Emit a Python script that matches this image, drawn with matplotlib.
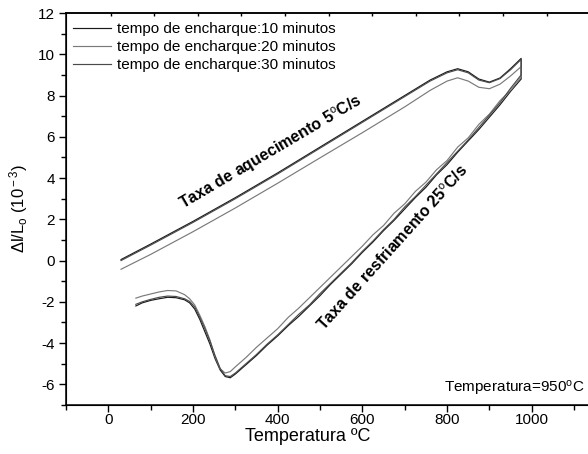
import matplotlib
matplotlib.use("Agg")
import matplotlib.pyplot as plt
from matplotlib.ticker import MultipleLocator, FixedLocator
import numpy as np

plt.rcParams['font.family'] = ['Liberation Sans', 'DejaVu Sans']
plt.rcParams['mathtext.fontset'] = 'custom'
plt.rcParams['mathtext.rm'] = 'Liberation Sans'
plt.rcParams['mathtext.it'] = 'Liberation Sans:italic'
plt.rcParams['mathtext.bf'] = 'Liberation Sans:bold'
plt.rcParams['axes.unicode_minus'] = False

# ---------------- data ----------------
labels = ['tempo de encharque:10 minutos',
          'tempo de encharque:20 minutos',
          'tempo de encharque:30 minutos']
colors = ['#1a1a1a', '#7a7a7a', '#4a4a4a']

temp_heat = [30, 100, 200, 300, 400, 500, 600, 700, 760, 800, 825, 850, 875, 900, 925, 950, 975]
heat_10 = [0.05, 0.80, 1.90, 3.05, 4.25, 5.50, 6.75, 8.00, 8.75, 9.15, 9.30, 9.15, 8.80, 8.65, 8.85, 9.30, 9.80]
heat_20 = [-0.42, 0.30, 1.40, 2.55, 3.75, 4.98, 6.20, 7.45, 8.25, 8.70, 8.86, 8.70, 8.40, 8.33, 8.55, 8.95, 9.40]
heat_30 = [0.00, 0.75, 1.85, 3.00, 4.20, 5.45, 6.70, 7.95, 8.70, 9.10, 9.25, 9.10, 8.75, 8.62, 8.82, 9.25, 9.75]

temp_cool = [975, 950, 925, 900, 875, 850, 825, 800, 775, 750, 725, 700, 675, 650, 625, 600,
             575, 550, 525, 500, 475, 450, 425, 400, 375, 350, 325, 300, 288, 276, 264, 252,
             240, 228, 216, 204, 192, 180, 160, 140, 120, 100, 80, 65]
cool_10 = [8.8, 8.2, 7.55, 6.95, 6.35, 5.8, 5.25, 4.65, 4.15, 3.55, 3.05, 2.5, 1.95, 1.45, 0.9, 0.4,
           -0.15, -0.65, -1.15, -1.7, -2.2, -2.7, -3.15, -3.65, -4.1, -4.6, -5.05, -5.5, -5.68, -5.62, -5.3, -4.75,
           -4.05, -3.45, -2.85, -2.35, -2.05, -1.9, -1.8, -1.78, -1.85, -1.93, -2.05, -2.2]
cool_20 = [8.9, 8.25, 7.75, 7.1, 6.6, 5.95, 5.5, 4.85, 4.4, 3.8, 3.35, 2.75, 2.3, 1.7, 1.25, 0.7,
           0.2, -0.3, -0.8, -1.3, -1.8, -2.3, -2.75, -3.3, -3.75, -4.2, -4.7, -5.15, -5.38, -5.45, -5.25, -4.65,
           -3.85, -3.2, -2.65, -2.15, -1.85, -1.65, -1.47, -1.45, -1.52, -1.62, -1.72, -1.82]
cool_30 = [9.0, 8.35, 7.65, 7.05, 6.45, 5.85, 5.3, 4.75, 4.2, 3.65, 3.1, 2.6, 2.0, 1.5, 0.95, 0.45,
           -0.1, -0.6, -1.1, -1.6, -2.15, -2.6, -3.1, -3.6, -4.05, -4.55, -5.0, -5.45, -5.62, -5.58, -5.22, -4.6,
           -3.9, -3.3, -2.75, -2.25, -1.98, -1.85, -1.74, -1.72, -1.78, -1.88, -2.0, -2.12]

heats = [heat_10, heat_20, heat_30]
cools = [cool_10, cool_20, cool_30]

# ---------------- figure ----------------
W, H = 588, 454
fig = plt.figure(figsize=(W / 100, H / 100), dpi=100)
L, R, B, T = 66, 588, 405, 13
ax = fig.add_axes([L / W, 1 - B / H, (R - L) / W, (B - T) / H])

for h, c, col, lab in zip(heats, cools, colors, labels):
    xs = list(temp_heat) + list(temp_cool)
    ys = list(h) + list(c)
    ax.plot(xs, ys, color=col, lw=0.85, label=lab)

ax.set_xlim(-100, -100 + (R - L) / 0.4234)
ax.set_ylim(-7, 12)

ax.xaxis.set_major_locator(FixedLocator([0, 200, 400, 600, 800, 1000]))
ax.xaxis.set_minor_locator(MultipleLocator(100))
ax.yaxis.set_major_locator(MultipleLocator(2))
ax.yaxis.set_minor_locator(MultipleLocator(1))
ax.set_yticks([-6, -4, -2, 0, 2, 4, 6, 8, 10, 12])

for s in ['left', 'bottom', 'top']:
    ax.spines[s].set_linewidth(1.1)
ax.spines['right'].set_visible(False)

ax.tick_params(axis='both', which='major', direction='out', length=5, width=1.0,
               labelsize=11, top=False, right=False)
ax.tick_params(axis='both', which='minor', direction='out', length=3.5, width=1.0,
               top=False, right=False)
ax.tick_params(axis='x', which='major', pad=1.0)
ax.tick_params(axis='y', which='major', pad=3)

# top axis ticks (separate scale)
tw = ax.twiny()
tw.set_xlim((L - 110.7) / 0.436, (R - 110.7) / 0.436)
tw.set_xticks(np.arange(0, 1100, 100))
tw.tick_params(axis='x', direction='in', length=2.5, width=1.0, labeltop=False)
tw.spines['right'].set_visible(False)
tw.spines['top'].set_linewidth(1.1)

ax.set_xlabel('Temperatura ºC', fontsize=13)
ax.xaxis.set_label_coords((307.5 - L) / (R - L), (B - 428) / (B - T))
ax.xaxis.label.set_va('top')
ax.set_ylabel('Δl/L$_{\\rm o}$ (10$^{\\rm -3}$)', fontsize=12)
ax.yaxis.set_label_coords((30 - L) / (R - L), 0.5)

leg = ax.legend(loc='upper left', bbox_to_anchor=((73 - L) / (R - L), (B - 22) / (B - T)),
                frameon=False, fontsize=11, handlelength=2.5, handletextpad=0.35,
                labelspacing=0.27, borderpad=0, borderaxespad=0)

ax.text(385, 5.25, 'Taxa de aquecimento 5$^{\\rm o}$C/s', fontsize=11.5, fontweight='bold',
        rotation=30.5, ha='center', va='center', rotation_mode='anchor')
ax.text(671, 0.6, 'Taxa de resfriamento 25$^{\\rm o}$C/s', fontsize=11.5, fontweight='bold',
        rotation=48, ha='center', va='center', rotation_mode='anchor')
ax.text((585 - L) / (R - L), (B - 389) / (B - T), 'Temperatura=950$^{\\rm o}$C', fontsize=11,
        ha='right', va='center', transform=ax.transAxes)

fig.savefig('out.png', dpi=100)
